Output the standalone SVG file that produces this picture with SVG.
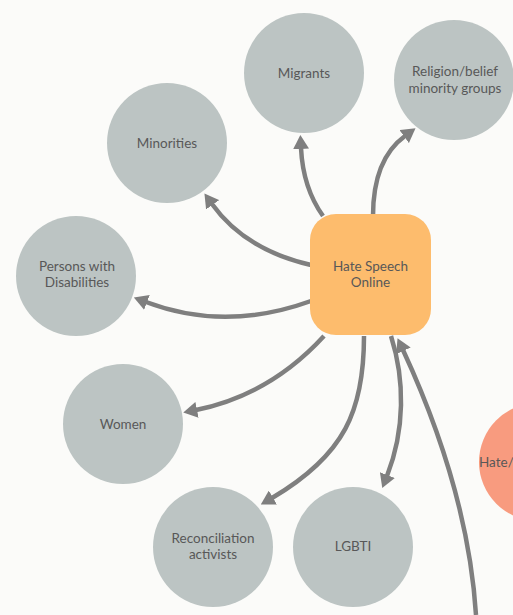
<svg xmlns="http://www.w3.org/2000/svg" width="513" height="615" viewBox="0 0 513 615">
<defs>
<style>
.c{fill:#bcc4c3}
.t{font-family:Lato,"Liberation Sans",sans-serif;font-size:13.5px;fill:#585858;text-anchor:middle}
.e{fill:none;stroke:#7f7f7f;stroke-width:4.5;marker-end:url(#ah)}
</style>
<marker id="ah" viewBox="0 0 14 16" refX="1" refY="8" markerWidth="14" markerHeight="16" markerUnits="userSpaceOnUse" orient="auto">
<path d="M0,0 L14,8 L0,16 z" fill="#7f7f7f"/>
</marker>
</defs>
<rect width="513" height="615" fill="#fbfbf9"/>
<g id="migrants"><circle class="c" cx="304" cy="73" r="60"/><text class="t" x="304" y="78">Migrants</text></g>
<g id="religion"><circle class="c" cx="454" cy="80" r="60"/><text class="t" x="455" y="76">Religion/belief</text><text class="t" x="455" y="92.5">minority groups</text></g>
<g id="minorities"><circle class="c" cx="167" cy="143" r="60"/><text class="t" x="167" y="148">Minorities</text></g>
<g id="disabilities"><circle class="c" cx="76" cy="276" r="60"/><text class="t" x="77" y="271">Persons with</text><text class="t" x="77" y="287">Disabilities</text></g>
<g id="women"><circle class="c" cx="123" cy="424" r="60"/><text class="t" x="123" y="428.5">Women</text></g>
<g id="reconciliation"><circle class="c" cx="213" cy="547" r="60"/><text class="t" x="213" y="542.5">Reconciliation</text><text class="t" x="213" y="558.5">activists</text></g>
<g id="lgbti"><circle class="c" cx="353" cy="547" r="60"/><text class="t" x="353" y="551">LGBTI</text></g>
<g id="hate"><circle cx="538" cy="462" r="59" fill="#f89b7f"/><text class="t" x="479" y="467" style="text-anchor:start">Hate/</text></g>
<g id="connectors">
<path class="e" d="M323,216 Q303,188 301,148"/>
<path class="e" d="M373,216 C373,180 383,152 405,136"/>
<path class="e" d="M311,265 Q245,250 212,204"/>
<path class="e" d="M311,301 Q225,332 146,302"/>
<path class="e" d="M324,336 Q270,395 196,410"/>
<path class="e" d="M364,336 C364,410 345,455 272,498"/>
<path class="e" d="M391,336 C405,380 405,430 387,476"/>
<path class="e" d="M476,615 C470,520 440,430 403,350"/>
</g>
<g id="center"><rect x="310" y="214" width="121" height="121" rx="26" fill="#fdbc6d"/><text class="t" x="370.5" y="271">Hate Speech</text><text class="t" x="370.5" y="287">Online</text></g>
</svg>
